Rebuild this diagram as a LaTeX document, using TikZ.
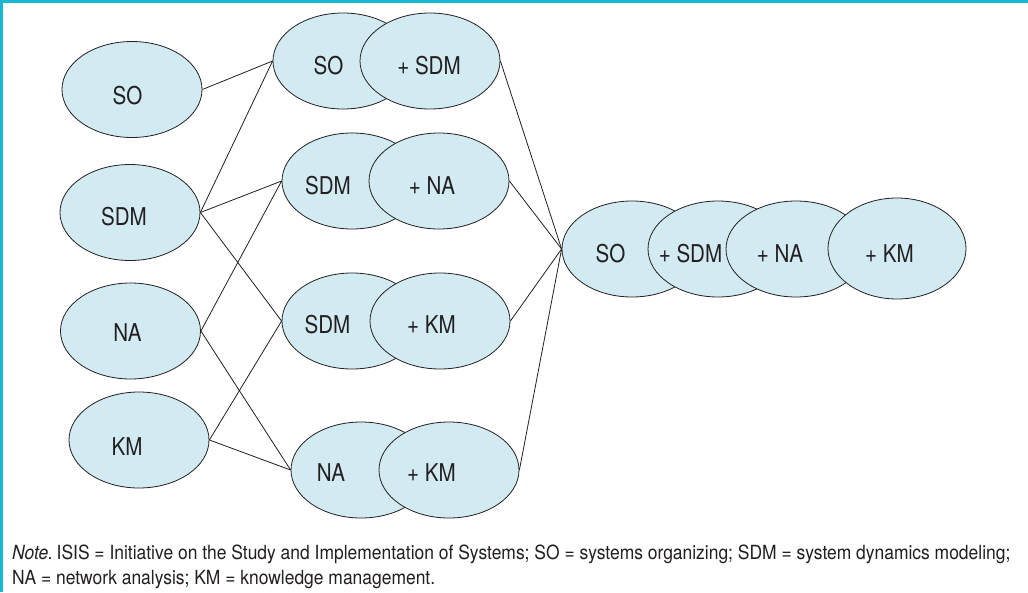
\documentclass[tikz,border=0pt]{standalone}
\usepackage{fontspec}
\setmainfont{TeX Gyre Heros}[FakeStretch=0.84]
\newfontfamily\notefont{TeX Gyre Heros}[FakeStretch=0.895]
\usetikzlibrary{shapes.geometric}
\definecolor{framecol}{RGB}{22,184,210}
\definecolor{bubfill}{RGB}{210,235,242}
\definecolor{ink}{RGB}{35,31,32}
\tikzset{
  bub/.style={ellipse, draw=ink, fill=bubfill, line width=0.8pt, minimum width=140pt, minimum height=96pt, inner sep=0pt},
  lbl/.style={anchor=base, font=\fontsize{24.5}{28}\selectfont, text=ink, inner sep=0pt},
  conn/.style={draw=ink, line width=0.8pt},
  notetext/.style={anchor=base west, font=\notefont\fontsize{19.5}{24}\selectfont, text=ink, inner sep=0pt},
}
\begin{document}
\begin{tikzpicture}[x=1pt,y=-1pt]
\useasboundingbox (0,0) rectangle (1028,592);
\fill[white] (0,0) rectangle (1028,592);
\draw[framecol, line width=3pt] (0,1.5) -- (1028,1.5);
\draw[framecol, line width=3pt] (1.5,0) -- (1.5,592);

% left column
\node[bub] (so) at (132,89.5) {};
\node[bub] (sdm) at (130,212.5) {};
\node[bub] (na) at (130.5,331) {};
\node[bub] (km) at (139,440) {};
\node[lbl] (tso) at (127.5,104) {SO};
\node[lbl] (tsdm) at (124,225) {SDM};
\node[lbl] (tna) at (127.5,341) {NA};
\node[lbl] (tkm) at (127,455) {KM};

% middle column
\node[bub] (p1a) at (343,61) {};
\node[bub] (p1b) at (430,61) {};
\node[bub] (p2a) at (352,181) {};
\node[bub] (p2b) at (439,181) {};
\node[bub] (p3a) at (352,321) {};
\node[bub] (p3b) at (440,321) {};
\node[bub] (p4a) at (361,470) {};
\node[bub] (p4b) at (449,470) {};
\node[lbl] (t1a) at (328.5,74) {SO};
\node[lbl] (t1b) at (429,74) {+ SDM};
\node[lbl] (t2a) at (328,194) {SDM};
\node[lbl] (t2b) at (432,194) {+ NA};
\node[lbl] (t3a) at (327.5,333) {SDM};
\node[lbl] (t3b) at (431.5,333) {+ KM};
\node[lbl] (t4a) at (331,481) {NA};
\node[lbl] (t4b) at (431.5,481) {+ KM};

% right group
\node[bub] (r1) at (632,249) {};
\node[bub] (r2) at (718,249) {};
\node[bub] (r3) at (796,249) {};
\node[bub, minimum width=138pt, minimum height=101pt] (r4) at (897,248.5) {};
\node[lbl] (tr1) at (610.5,262) {SO};
\node[lbl] (tr2) at (690.5,262) {+ SDM};
\node[lbl] (tr3) at (780,262) {+ NA};
\node[lbl] (tr4) at (889.5,262) {+ KM};

% connectors
\draw[conn] (so.east) -- (p1a.west);
\draw[conn] (sdm.east) -- (p1a.west);
\draw[conn] (sdm.east) -- (p2a.west);
\draw[conn] (sdm.east) -- (p3a.west);
\draw[conn] (na.east) -- (p2a.west);
\draw[conn] (na.east) -- (p4a.west);
\draw[conn] (km.east) -- (p3a.west);
\draw[conn] (km.east) -- (p4a.west);
\draw[conn] (p1b.east) -- (r1.west);
\draw[conn] (p2b.east) -- (r1.west);
\draw[conn] (p3b.east) -- (r1.west);
\draw[conn] (p4b.east) -- (r1.west);

% note
\node[notetext] (note1) at (12,559) {\textit{Note.}\kern-0.15em{} ISIS = Initiative on the Study and Implementation of Systems; SO = systems organizing; SDM = system dynamics modeling;};
\node[notetext] (note2) at (12,584) {NA = network analysis; KM = knowledge management.};
\end{tikzpicture}
\end{document}
